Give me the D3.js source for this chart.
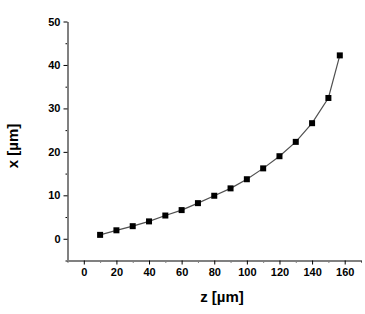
<!DOCTYPE html>
<html>
<head>
<meta charset="utf-8">
<script src="https://cdn.jsdelivr.net/npm/d3@7"></script>
<style>
  body { margin:0; background:#fff; }
  svg text { font-family: "Liberation Sans", Arial, sans-serif; }
</style>
</head>
<body>
<div id="chart"></div>
<script>
// Messpunkte z / x (µm)
const zVals = [10, 20, 30, 40, 50, 60, 70, 80, 90, 100, 110, 120, 130, 140, 150, 157];
const xVals = [0.9, 1.95, 2.9, 4.0, 5.35, 6.6, 8.2, 9.9, 11.6, 13.7, 16.2, 19.0, 22.3, 26.6, 32.4, 42.2];
const zTicks = [0, 20, 40, 60, 80, 100, 120, 140, 160];
const xTicks = [0, 10, 20, 30, 40, 50];

const W = 365, H = 314;
const svg = d3.select('#chart').append('svg')
  .attr('width', W).attr('height', H);

const x = d3.scaleLinear().domain([-10, 170]).range([67.5, 361]);
const y = d3.scaleLinear().domain([-5, 50]).range([260.5, 21.5]);

const data = zVals.map((z, i) => ({ z, v: xVals[i] }));

// Achsen
function styleAxis(g) {
  g.select('.domain').attr('stroke', '#808080').attr('stroke-width', 2);
  g.selectAll('.tick line').attr('stroke', '#000');
  g.selectAll('.tick text').attr('font-size', 11).attr('font-weight', 'bold').attr('fill', '#000');
}

// Minor-Ticks
svg.append('g').attr('transform', `translate(0,${y(-5)})`)
  .call(d3.axisBottom(x).tickValues(d3.range(-10, 171, 10).filter(d => d % 20 !== 0))
    .tickSize(2).tickFormat(''))
  .call(g => g.select('.domain').remove())
  .selectAll('line').attr('stroke', '#000');
svg.append('g').attr('transform', `translate(${x(-10)},0)`)
  .call(d3.axisLeft(y).tickValues([-5, 5, 15, 25, 35, 45]).tickSize(2).tickFormat(''))
  .call(g => g.select('.domain').remove())
  .selectAll('line').attr('stroke', '#000');

svg.append('g').attr('transform', `translate(0,${y(-5)})`)
  .call(d3.axisBottom(x).tickValues(zTicks).tickSize(4).tickPadding(4).tickSizeOuter(0))
  .call(styleAxis);
svg.append('g').attr('transform', `translate(${x(-10)},0)`)
  .call(d3.axisLeft(y).tickValues(xTicks).tickSize(4).tickPadding(3).tickSizeOuter(0))
  .call(styleAxis);

// Linie
svg.append('path')
  .datum(data)
  .attr('fill', 'none')
  .attr('stroke', '#505050')
  .attr('stroke-width', 1.2)
  .attr('d', d3.line().x(d => x(d.z)).y(d => y(d.v)));

// Marker
svg.selectAll('rect.pt')
  .data(data)
  .enter().append('rect')
    .attr('class', 'pt')
    .attr('x', d => x(d.z) - 3)
    .attr('y', d => y(d.v) - 3)
    .attr('width', 6)
    .attr('height', 6)
    .attr('fill', '#000');

// Achsentitel
svg.append('text')
  .attr('x', 222).attr('y', 302)
  .attr('text-anchor', 'middle')
  .attr('font-size', 15).attr('font-weight', 'bold')
  .text('z [µm]');
svg.append('text')
  .attr('transform', 'translate(18,146) rotate(-90)')
  .attr('text-anchor', 'middle')
  .attr('font-size', 15).attr('font-weight', 'bold')
  .text('x [µm]');
</script>
</body>
</html>
